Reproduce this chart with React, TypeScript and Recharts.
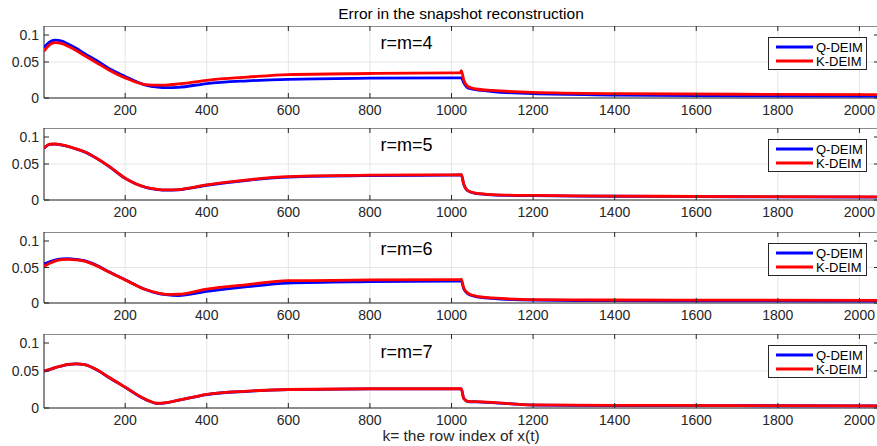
import {
    LineChart,
    Line,
    XAxis,
    YAxis,
    CartesianGrid,
    Legend,
    ReferenceArea,
    ReferenceDot,
} from "recharts";

const rowIndex = [
    1, 15, 28, 45, 60, 80, 100, 130, 160, 200, 250, 280, 300, 330, 400, 500,
    600, 800, 1000, 1022, 1024, 1030, 1040, 1060, 1100, 1200, 1400, 1700, 2048,
];

const qDeim4 = [
    0.07, 0.078, 0.0805, 0.079, 0.075, 0.069, 0.062, 0.052, 0.041, 0.03, 0.018,
    0.015, 0.0143, 0.0148, 0.0201, 0.0238, 0.026, 0.0275, 0.028, 0.028, 0.028,
    0.021, 0.014, 0.0115, 0.009, 0.006, 0.0042, 0.003, 0.0025,
];
const kDeim4 = [
    0.065, 0.074, 0.077, 0.0755, 0.072, 0.066, 0.059, 0.049, 0.039, 0.028,
    0.0185, 0.0178, 0.018, 0.0195, 0.0246, 0.029, 0.0325, 0.034, 0.035, 0.035,
    0.038, 0.025, 0.016, 0.0125, 0.0105, 0.0078, 0.006, 0.0052, 0.0048,
];

const qDeim5 = [
    0.0718, 0.0773, 0.0776, 0.0763, 0.0743, 0.0708, 0.0668, 0.0578, 0.0468,
    0.0301, 0.0175, 0.0145, 0.0137, 0.0141, 0.0205, 0.0274, 0.0318, 0.0339,
    0.0345, 0.0347, 0.035, 0.0217, 0.0127, 0.0092, 0.0072, 0.006, 0.0052,
    0.0045, 0.0039,
];
const kDeim5 = [
    0.072, 0.0775, 0.0778, 0.0765, 0.0745, 0.071, 0.067, 0.058, 0.047, 0.0303,
    0.0177, 0.0148, 0.014, 0.0145, 0.021, 0.028, 0.0325, 0.0345, 0.035, 0.0352,
    0.0355, 0.022, 0.013, 0.0095, 0.0075, 0.0063, 0.0055, 0.0048, 0.0042,
];

const qDeim6 = [
    0.055, 0.058, 0.0605, 0.062, 0.0625, 0.0615, 0.0596, 0.053, 0.044, 0.0328,
    0.019, 0.0135, 0.0117, 0.0105, 0.0163, 0.023, 0.028, 0.03, 0.031, 0.031,
    0.031, 0.02, 0.013, 0.009, 0.0065, 0.004, 0.0033, 0.003, 0.0028,
];
const kDeim6 = [
    0.0516, 0.056, 0.059, 0.061, 0.0615, 0.0608, 0.059, 0.0525, 0.0435, 0.0325,
    0.019, 0.0143, 0.0122, 0.0123, 0.0197, 0.026, 0.0314, 0.0325, 0.033, 0.033,
    0.0335, 0.021, 0.014, 0.0098, 0.0072, 0.0048, 0.0042, 0.004, 0.0038,
];

const qDeim7 = [
    0.0499, 0.0519, 0.0543, 0.0568, 0.0588, 0.0595, 0.0585, 0.0518, 0.0413,
    0.028, 0.0115, 0.0062, 0.007, 0.0103, 0.0182, 0.0226, 0.0248, 0.0258,
    0.0258, 0.0258, 0.0258, 0.0128, 0.0088, 0.0083, 0.0073, 0.004, 0.0034,
    0.0031, 0.0028,
];
const kDeim7 = [
    0.05, 0.052, 0.0545, 0.057, 0.059, 0.0597, 0.0587, 0.052, 0.0415, 0.0282,
    0.0117, 0.0064, 0.0072, 0.0105, 0.0184, 0.0228, 0.025, 0.026, 0.026, 0.026,
    0.026, 0.013, 0.009, 0.0085, 0.0075, 0.0042, 0.0036, 0.0033, 0.003,
];

const panelLabels = ["r=m=4", "r=m=5", "r=m=6", "r=m=7"];
const xTicks = [200, 400, 600, 800, 1000, 1200, 1400, 1600, 1800, 2000];
const yTicks = [0, 0.05, 0.1];

const panels = [
    { q: qDeim4, k: kDeim4, top: 26, height: 72 },
    { q: qDeim5, k: kDeim5, top: 128, height: 72 },
    { q: qDeim6, k: kDeim6, top: 232, height: 71 },
    { q: qDeim7, k: kDeim7, top: 334, height: 74 },
];

const FONT = '"Liberation Sans", Arial, Helvetica, sans-serif';
const AXIS = "#262626";
const PLOT_LEFT = 44;
const PLOT_RIGHT = 879;

const renderLegend = () => (
    <div
        style={{
            width: 97,
            height: 31,
            border: "1px solid " + AXIS,
            background: "#fff",
        }}
    >
        <svg width={97} height={31} style={{ display: "block" }}>
            <line x1={7} x2={44} y1={9} y2={9} stroke="#0000ff" strokeWidth={2.8} />
            <text x={47} y={14} fontSize={13} fontFamily={FONT} fill="#000">
                Q-DEIM
            </text>
            <line x1={7} x2={44} y1={23} y2={23} stroke="#ff0000" strokeWidth={2.8} />
            <text x={47} y={28} fontSize={13} fontFamily={FONT} fill="#000">
                K-DEIM
            </text>
        </svg>
    </div>
);

const Panel = ({ q, k, top, height, label }: any) => {
    const data = rowIndex.map((r, i) => ({ r, q: q[i], k: k[i] }));

    const xTick = (props: any) => {
        const { x, y, payload } = props;
        return (
            <g>
                <line x1={x} x2={x} y1={y} y2={y - 5} stroke={AXIS} />
                <line x1={x} x2={x} y1={y - height} y2={y - height + 5} stroke={AXIS} />
                <text
                    x={x}
                    y={y + 17}
                    textAnchor="middle"
                    fontSize={14}
                    fontFamily={FONT}
                    fill={AXIS}
                >
                    {payload.value}
                </text>
            </g>
        );
    };

    const yTick = (props: any) => {
        const { x, y, payload } = props;
        const w = PLOT_RIGHT - PLOT_LEFT;
        return (
            <g>
                <line x1={x} x2={x + 5} y1={y} y2={y} stroke={AXIS} />
                <line x1={x + w} x2={x + w - 5} y1={y} y2={y} stroke={AXIS} />
                <text
                    x={x - 5}
                    y={y + 5}
                    textAnchor="end"
                    fontSize={14}
                    fontFamily={FONT}
                    fill={AXIS}
                >
                    {payload.value}
                </text>
            </g>
        );
    };

    return (
        <div style={{ position: "absolute", left: 0, top }}>
            <LineChart
                width={PLOT_RIGHT + 5}
                height={height + 24}
                data={data}
                margin={{ top: 0, right: 5, left: 0, bottom: 0 }}
            >
                <CartesianGrid stroke="#e6e6e6" />
                <XAxis
                    dataKey="r"
                    type="number"
                    domain={[1, 2048]}
                    ticks={xTicks}
                    allowDataOverflow
                    axisLine={false}
                    tickLine={false}
                    tickSize={0}
                    tickMargin={0}
                    height={24}
                    tick={xTick}
                />
                <YAxis
                    type="number"
                    domain={[0, 0.1]}
                    ticks={yTicks}
                    allowDataOverflow
                    axisLine={false}
                    tickLine={false}
                    tickSize={0}
                    tickMargin={0}
                    width={PLOT_LEFT}
                    tick={yTick}
                />
                <Line
                    type="monotone"
                    dataKey="q"
                    name="Q-DEIM"
                    stroke="#0000ff"
                    strokeWidth={2.8}
                    dot={false}
                    isAnimationActive={false}
                />
                <Line
                    type="monotone"
                    dataKey="k"
                    name="K-DEIM"
                    stroke="#ff0000"
                    strokeWidth={2.8}
                    dot={false}
                    isAnimationActive={false}
                />
                <ReferenceArea
                    x1={1}
                    x2={2048}
                    y1={0}
                    y2={0.1}
                    fill="none"
                    fillOpacity={0}
                    stroke={AXIS}
                    strokeWidth={1}
                />
                <ReferenceDot
                    x={890}
                    y={0.0764}
                    r={0}
                    fill="none"
                    stroke="none"
                    label={{
                        value: label,
                        position: "center",
                        fontSize: 18,
                        fontFamily: FONT,
                        fill: "#000",
                    }}
                />
                <Legend
                    layout="horizontal"
                    verticalAlign="middle"
                    align="center"
                    content={renderLegend}
                    wrapperStyle={{ top: 11, left: 768, width: 99 }}
                />
            </LineChart>
        </div>
    );
};

const App = () => {
    return (
        <div
            style={{
                position: "absolute",
                left: 0,
                top: 0,
                width: 877,
                height: 446,
                overflow: "hidden",
                background: "#fff",
                fontFamily: FONT,
            }}
        >
            <div
                style={{
                    position: "absolute",
                    top: 5,
                    left: 0,
                    width: 922,
                    textAlign: "center",
                    fontSize: 15.5,
                    color: "#000",
                }}
            >
                Error in the snapshot reconstruction
            </div>
            {panels.map((p, i) => (
                <Panel
                    key={panelLabels[i]}
                    q={p.q}
                    k={p.k}
                    top={p.top}
                    height={p.height}
                    label={panelLabels[i]}
                />
            ))}
            <div
                style={{
                    position: "absolute",
                    top: 427,
                    left: 0,
                    width: 922,
                    textAlign: "center",
                    fontSize: 15.5,
                    color: AXIS,
                }}
            >
                k= the row index of x(t)
            </div>
        </div>
    );
};

export default App;
